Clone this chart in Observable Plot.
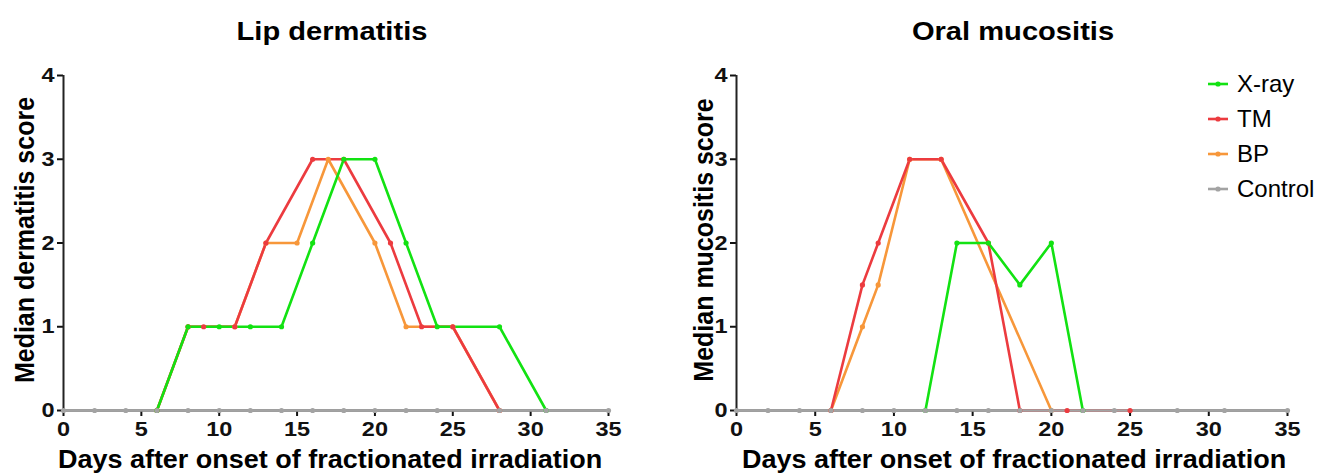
<!DOCTYPE html>
<html>
<head>
<meta charset="utf-8">
<script src="https://cdn.jsdelivr.net/npm/d3@7"></script>
<script src="https://cdn.jsdelivr.net/npm/@observablehq/plot@0.6"></script>
<style>
  html, body { margin: 0; padding: 0; background: #fff; }
  #wrap { position: relative; width: 1319px; height: 474px; overflow: hidden; background: #fff; }
  #wrap > div.panel { position: absolute; top: 0; }
  #overlay { position: absolute; left: 0; top: 0; pointer-events: none; }
  text { font-family: "Liberation Sans", Arial, Helvetica, sans-serif; }
</style>
</head>
<body>
<div id="wrap">
  <div class="panel" id="left" style="left:0px"></div>
  <div class="panel" id="right" style="left:660px"></div>
  <svg id="overlay" width="1319" height="474"></svg>
</div>
<script>
// ---------- data ----------
const groups = ["X-ray", "TM", "BP", "Control"];
const groupColors = ["#12e212", "#ec3b3f", "#f7973a", "#a3a3a3"];
const drawOrder = ["BP", "TM", "X-ray", "Control"];

const xTicks = [0, 5, 10, 15, 20, 25, 30, 35];
const yTicks = [0, 1, 2, 3, 4];

const controlDays = [0, 2, 4, 6, 8, 10, 12, 14, 16, 18, 20, 22, 24, 28, 31, 35];
const controlScores = [0, 0, 0, 0, 0, 0, 0, 0, 0, 0, 0, 0, 0, 0, 0, 0];

// Lip dermatitis
const lipXrayDays = [6, 8, 10, 12, 14, 16, 18, 20, 22, 24, 28, 31];
const lipXrayScores = [0, 1, 1, 1, 1, 2, 3, 3, 2, 1, 1, 0];
const lipTMDays = [6, 8, 9, 11, 13, 16, 18, 21, 23, 25, 28];
const lipTMScores = [0, 1, 1, 1, 2, 3, 3, 2, 1, 1, 0];
const lipBPDays = [6, 8, 11, 13, 15, 17, 20, 22, 25, 28];
const lipBPScores = [0, 1, 1, 2, 2, 3, 2, 1, 1, 0];

// Oral mucositis
const oralXrayDays = [12, 14, 16, 18, 20, 22];
const oralXrayScores = [0, 2, 2, 1.5, 2, 0];
const oralTMDays = [6, 8, 9, 11, 13, 16, 18, 21, 25];
const oralTMScores = [0, 1.5, 2, 3, 3, 2, 0, 0, 0];
const oralBPDays = [6, 8, 9, 11, 13, 20];
const oralBPScores = [0, 1, 1.5, 3, 3, 0];

const titles = ["Lip dermatitis", "Oral mucositis"];
const yLabels = ["Median dermatitis score", "Median mucositis score"];
const xLabel = "Days after onset of fractionated irradiation";

// ---------- build ----------
const SX = 1.12; // horizontal stretch of the reference's bold lettering
const SXT = 1.08; // stretch for the x-axis titles

function rows(seriesMap) {
  const out = [];
  for (const g of drawOrder) {
    const [days, scores] = seriesMap[g];
    days.forEach((d, i) => out.push({group: g, day: d, score: scores[i]}));
  }
  return out;
}

const FONT = '"Liberation Sans", Arial, Helvetica, sans-serif';

function panel(data, width, marginLeft, marginRight) {
  const svg = Plot.plot({
    width, height: 474,
    marginLeft, marginRight, marginTop: 75, marginBottom: 64,
    style: {fontFamily: FONT, color: "#111", background: "transparent", overflow: "visible"},
    x: {domain: [0, 35]},
    y: {domain: [0, 4]},
    color: {domain: groups, range: groupColors},
    marks: [
      Plot.axisX({ticks: xTicks, tickSize: 6, tickPadding: 5, fontSize: 21, fontWeight: "bold", strokeWidth: 2, label: null}),
      Plot.axisY({ticks: yTicks, tickSize: 6, tickPadding: 3, fontSize: 21, fontWeight: "bold", strokeWidth: 2, label: null, tickFormat: d => String(d)}),
      Plot.ruleX([0], {stroke: "#222", strokeWidth: 2}),
      Plot.ruleY([0], {stroke: "#222", strokeWidth: 2}),
      Plot.line(data, {x: "day", y: "score", z: "group", stroke: "group", strokeWidth: 2.6, strokeLinejoin: "round"}),
      Plot.dot(data, {x: "day", y: "score", fill: "group", r: 2.6})
    ]
  });
  // widen tick lettering like the reference
  d3.select(svg).selectAll('g[aria-label$="tick label"] text').each(function () {
    const t = this.getAttribute("transform") || "";
    this.setAttribute("transform", t + ` scale(${SX},1)`);
  });
  return svg;
}

const lipData = rows({
  "X-ray": [lipXrayDays, lipXrayScores],
  "TM": [lipTMDays, lipTMScores],
  "BP": [lipBPDays, lipBPScores],
  "Control": [controlDays, controlScores]
});
const oralData = rows({
  "X-ray": [oralXrayDays, oralXrayScores],
  "TM": [oralTMDays, oralTMScores],
  "BP": [oralBPDays, oralBPScores],
  "Control": [controlDays, controlScores]
});

document.getElementById("left").appendChild(panel(lipData, 660, 63, 52));
document.getElementById("right").appendChild(panel(oralData, 659, 76, 32));

// ---------- text overlay (titles, axis titles, legend) ----------
const ov = d3.select("#overlay");
const titleCenters = [332, 1013];
const xLabCenters = [330, 1014];
titles.forEach((t, i) => {
  ov.append("text").attr("transform", `translate(${titleCenters[i]},40) scale(${SX},1)`).attr("text-anchor", "middle")
    .attr("font-size", 26).attr("font-weight", "bold").attr("fill", "#000").text(t);
  ov.append("text").attr("transform", `translate(${xLabCenters[i]},468) scale(${SXT},1)`).attr("text-anchor", "middle")
    .attr("font-size", 25).attr("font-weight", "bold").attr("fill", "#000").text(xLabel);
});
const yLabX = [34, 713];
yLabels.forEach((t, i) => {
  ov.append("text").attr("transform", `translate(${yLabX[i]},240) scale(${SX},1) rotate(-90)`)
    .attr("text-anchor", "middle").attr("font-size", 25).attr("font-weight", "bold")
    .attr("fill", "#000").text(t);
});
const leg = ov.append("g").attr("transform", "translate(1208,84)");
groups.forEach((g, i) => {
  const row = leg.append("g").attr("transform", `translate(0,${i * 35})`);
  row.append("line").attr("x1", 0).attr("x2", 20).attr("y1", 0).attr("y2", 0)
    .attr("stroke", groupColors[i]).attr("stroke-width", 2.6);
  row.append("circle").attr("cx", 10).attr("cy", 0).attr("r", 2.6).attr("fill", groupColors[i]);
  row.append("text").attr("x", 29).attr("y", 0).attr("dy", "0.35em")
    .attr("font-size", 24).attr("fill", "#000").text(g);
});
</script>
</body>
</html>
